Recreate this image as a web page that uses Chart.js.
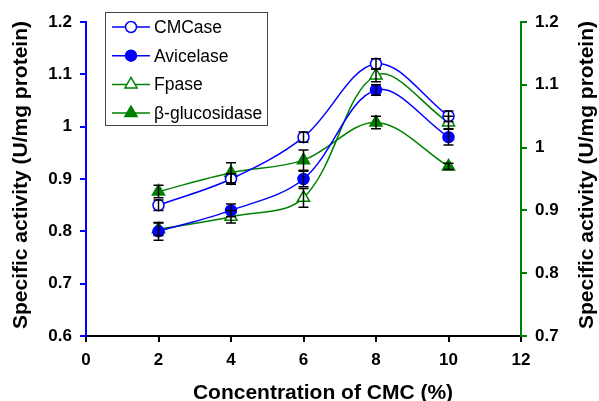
<!DOCTYPE html>
<html>
<head>
<meta charset="utf-8">
<script src="https://cdn.jsdelivr.net/npm/chart.js@4.4.1/dist/chart.umd.min.js"></script>
<style>
  html, body { margin: 0; padding: 0; background: #fff; }
  #wrap { width: 599px; height: 401px; }
</style>
</head>
<body>
<div id="wrap"><canvas id="chart" width="599" height="401"></canvas></div>
<script>
// CMC濃度 (%)
const concentrations = [2, 4, 6, 8, 10];

// 比活性 (U/mg protein) と誤差
const cmcase = [0.85, 0.90, 0.98, 1.12, 1.02];
const cmcaseErr = [0.01, 0.01, 0.01, 0.01, 0.01];
const avicelase = [0.80, 0.84, 0.90, 1.07, 0.98];
const avicelaseErr = [0.017, 0.012, 0.015, 0.01, 0.015];
// 右軸
const fpase = [0.87, 0.89, 0.92, 1.115, 1.04];
const fpaseErr = [0.01, 0.01, 0.015, 0.01, 0.01];
const glucosidase = [0.93, 0.96, 0.98, 1.04, 0.97];
const glucosidaseErr = [0.01, 0.016, 0.016, 0.01, 0.005];

const xTicks = [0, 2, 4, 6, 8, 10, 12];

const BLUE = '#0000ff';
const GREEN = '#008000';
const FONT = '"Liberation Sans", Arial, sans-serif';
const TITLE = 'Specific activity (U/mg protein)';

function points(ys) {
  return concentrations.map((x, i) => ({ x: x, y: ys[i] }));
}

function series(label, ys, errs, color, style, filled, axis, r) {
  return {
    label: label,
    data: points(ys),
    errors: errs,
    yAxisID: axis,
    showLine: true,
    borderColor: color,
    borderWidth: 1.5,
    tension: 0.35,
    pointStyle: style,
    pointRadius: r,
    pointBorderWidth: 1.5,
    pointBorderColor: color,
    pointBackgroundColor: filled ? color : '#fff'
  };
}

// 誤差棒
const errorBars = {
  id: 'errorBars',
  afterDatasetsDraw(chart) {
    const ctx = chart.ctx;
    ctx.save();
    ctx.strokeStyle = '#000';
    ctx.lineWidth = 1.5;
    chart.data.datasets.forEach((ds, i) => {
      const ys = chart.scales[ds.yAxisID];
      const xs = chart.scales.x;
      ds.data.forEach((p, j) => {
        const e = ds.errors[j];
        const px = xs.getPixelForValue(p.x);
        const top = ys.getPixelForValue(p.y + e);
        const bot = ys.getPixelForValue(p.y - e);
        ctx.beginPath();
        ctx.moveTo(px, top); ctx.lineTo(px, bot);
        ctx.moveTo(px - 5, top); ctx.lineTo(px + 5, top);
        ctx.moveTo(px - 5, bot); ctx.lineTo(px + 5, bot);
        ctx.stroke();
      });
    });
    ctx.restore();
  }
};

// 凡例と軸タイトル
const overlay = {
  id: 'overlay',
  afterDraw(chart) {
    const ctx = chart.ctx;
    ctx.save();
    // 凡例の枠
    ctx.fillStyle = '#fff';
    ctx.fillRect(105.5, 12.5, 162, 113);
    ctx.strokeStyle = '#444';
    ctx.lineWidth = 1;
    ctx.strokeRect(105.5, 12.5, 162, 113);
    chart.data.datasets.forEach((ds, i) => {
      const y = 27 + i * 28.7;
      ctx.strokeStyle = ds.borderColor;
      ctx.lineWidth = 1.5;
      ctx.beginPath();
      ctx.moveTo(112, y); ctx.lineTo(150, y);
      ctx.stroke();
      ctx.fillStyle = ds.pointBackgroundColor;
      Chart.helpers.drawPoint(ctx, {
        pointStyle: ds.pointStyle,
        radius: ds.pointRadius,
        borderWidth: 1.5,
        rotation: 0
      }, 131, y);
      ctx.fillStyle = '#000';
      ctx.font = '17.5px ' + FONT;
      ctx.textAlign = 'left';
      ctx.textBaseline = 'middle';
      ctx.fillText(ds.label, 154, y + 1);
    });
    // 軸タイトル
    ctx.fillStyle = '#000';
    ctx.font = 'bold 21px ' + FONT;
    ctx.textAlign = 'center';
    ctx.textBaseline = 'alphabetic';
    ctx.fillText('Concentration of CMC (%)', 323, 399);
    [27, 593].forEach(bx => {
      ctx.save();
      ctx.translate(bx, 175);
      ctx.rotate(-Math.PI / 2);
      ctx.fillText(TITLE, 0, 0);
      ctx.restore();
    });
    ctx.restore();
  }
};

const tickFont = { family: FONT, size: 17, weight: 'bold' };

new Chart(document.getElementById('chart'), {
  type: 'scatter',
  data: {
    datasets: [
      series('CMCase', cmcase, cmcaseErr, BLUE, 'circle', false, 'yLeft', 5.5),
      series('Avicelase', avicelase, avicelaseErr, BLUE, 'circle', true, 'yLeft', 5.5),
      series('Fpase', fpase, fpaseErr, GREEN, 'triangle', false, 'yRight', 7),
      series('β-glucosidase', glucosidase, glucosidaseErr, GREEN, 'triangle', true, 'yRight', 7)
    ]
  },
  options: {
    responsive: false,
    animation: false,
    layout: { padding: { top: 22, left: 0, right: 0, bottom: 0 } },
    plugins: { legend: { display: false }, tooltip: { enabled: false } },
    scales: {
      x: {
        type: 'linear',
        min: 0, max: 12,
        afterBuildTicks: s => { s.ticks = xTicks.map(v => ({ value: v })); },
        afterFit: s => { s.height = 65; },
        ticks: { color: '#000', font: tickFont, padding: 8 },
        grid: { drawOnChartArea: false, color: '#000', lineWidth: 2, tickLength: 6 },
        border: { color: '#000', width: 2 }
      },
      yLeft: {
        type: 'linear',
        position: 'left',
        min: 0.6, max: 1.2,
        ticks: { stepSize: 0.1, color: '#000', font: tickFont, padding: 8,
                 callback: v => String(+v.toFixed(1)) },
        afterFit: s => { s.width = 86; },
        grid: { drawOnChartArea: false, color: BLUE, lineWidth: 2, tickLength: 6 },
        border: { color: BLUE, width: 2 }
      },
      yRight: {
        type: 'linear',
        position: 'right',
        min: 0.7, max: 1.2,
        ticks: { stepSize: 0.1, color: '#000', font: tickFont, padding: 8,
                 callback: v => String(+v.toFixed(1)) },
        afterFit: s => { s.width = 78; },
        grid: { drawOnChartArea: false, color: GREEN, lineWidth: 2, tickLength: 6 },
        border: { color: GREEN, width: 2 }
      }
    }
  },
  plugins: [errorBars, overlay]
});
</script>
</body>
</html>
